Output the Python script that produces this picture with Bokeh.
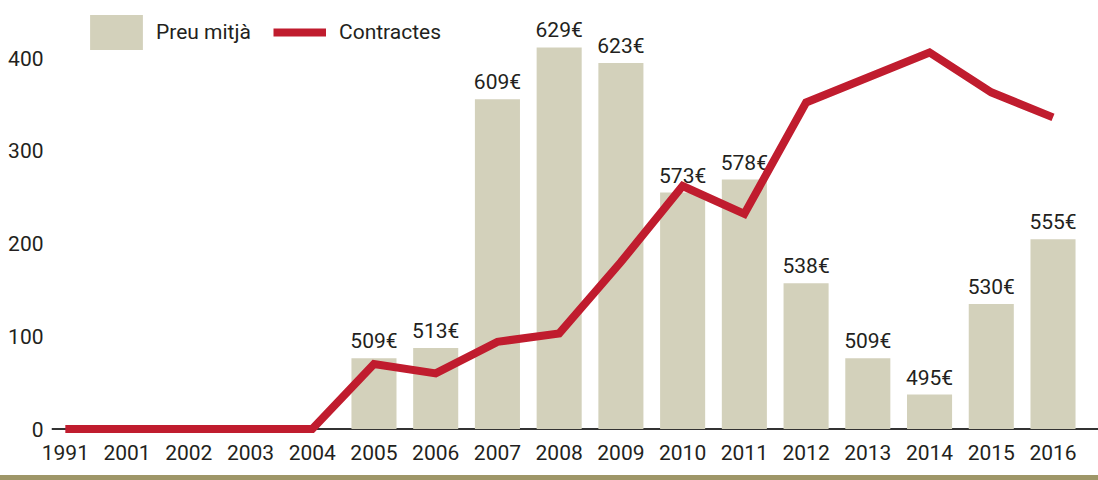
from bokeh.plotting import figure
from bokeh.models import (Range1d, FixedTicker, Span, Legend, LegendItem, Div)
from bokeh.layouts import column
from bokeh.embed import file_html
from bokeh.resources import INLINE
from bokeh.core.properties import value

# ---- data ----
years = ["1991", "2001", "2002", "2003", "2004", "2005", "2006", "2007", "2008",
         "2009", "2010", "2011", "2012", "2013", "2014", "2015", "2016"]
contractes = [0, 0, 0, 0, 0, 70, 60, 94, 103, 180, 262, 232, 352, 379, 406, 363, 336]
preu_years = ["2005", "2006", "2007", "2008", "2009", "2010", "2011", "2012",
              "2013", "2014", "2015", "2016"]
preu = [509, 513, 609, 629, 623, 573, 578, 538, 509, 495, 530, 555]
y_ticks = [0, 100, 200, 300, 400]

preu_labels = [f"{v}€" for v in preu]
x_all = list(range(len(years)))
preu_x = [years.index(y) for y in preu_years]

FONT = "Roboto"
FS = "21px"
TXT = "#231f20"
RED = "#c01c2e"
BAR = "#d3d1bb"
PRICE_BASE = 481.7  # price at the baseline of the hidden price scale

p = figure(width=1098, height=475, output_backend="svg", toolbar_location=None,
           x_range=Range1d(-0.224, 16.737), y_range=Range1d(-5.93, 462.0),
           min_border_left=51, min_border_right=0, min_border_top=0,
           min_border_bottom=41)
p.extra_y_ranges = {"preu": Range1d(479.58, 647.14)}

p.xgrid.visible = False
p.ygrid.visible = False
p.outline_line_color = None
p.background_fill_color = "white"
p.border_fill_color = "white"

# axes
p.xaxis.ticker = FixedTicker(ticks=x_all)
p.xaxis.major_label_overrides = {i: y for i, y in enumerate(years)}
p.yaxis.ticker = FixedTicker(ticks=y_ticks)
for ax in (p.xaxis, p.yaxis):
    ax.axis_line_color = None
    ax.major_tick_line_color = None
    ax.minor_tick_line_color = None
    ax.major_tick_in = 0
    ax.major_tick_out = 0
    ax.major_label_text_font = FONT
    ax.major_label_text_font_size = FS
    ax.major_label_text_color = TXT
    ax.major_label_standoff = 8
p.xaxis.major_label_standoff = 10

# baseline
p.add_layout(Span(location=0, dimension="width", line_color="#333333",
                  line_width=2, level="underlay"))

r_bar = p.vbar(x=preu_x, top=preu, bottom=PRICE_BASE, width=0.73,
               y_range_name="preu", fill_color=BAR, line_color=None)
p.text(x=preu_x, y=preu, text=preu_labels, y_range_name="preu",
       text_align="center", text_baseline="bottom", y_offset=-5,
       text_font=value(FONT), text_font_size=FS, text_color=TXT)

r_line = p.line(x=x_all, y=contractes, line_color=RED, line_width=8,
                line_join="miter")

common = dict(orientation="horizontal", glyph_height=44, padding=0, margin=0,
              border_line_color=None, background_fill_alpha=0,
              label_text_font=FONT, label_text_font_size=FS,
              label_text_color=TXT)
leg1 = Legend(items=[LegendItem(label="Preu mitjà", renderers=[r_bar])],
              location=(32, 380), glyph_width=66, label_standoff=7, **common)
leg2 = Legend(items=[LegendItem(label="Contractes", renderers=[r_line])],
              location=(222, 380), glyph_width=53, label_standoff=13, **common)
p.add_layout(leg1)
p.add_layout(leg2)

# decorative olive band along the bottom edge
band = Div(text="", width=1098, height=5, margin=0,
           styles={"background-color": "#9e9668"})

layout = column(p, band, spacing=0)
open("out.html", "w").write(file_html(layout, INLINE))
